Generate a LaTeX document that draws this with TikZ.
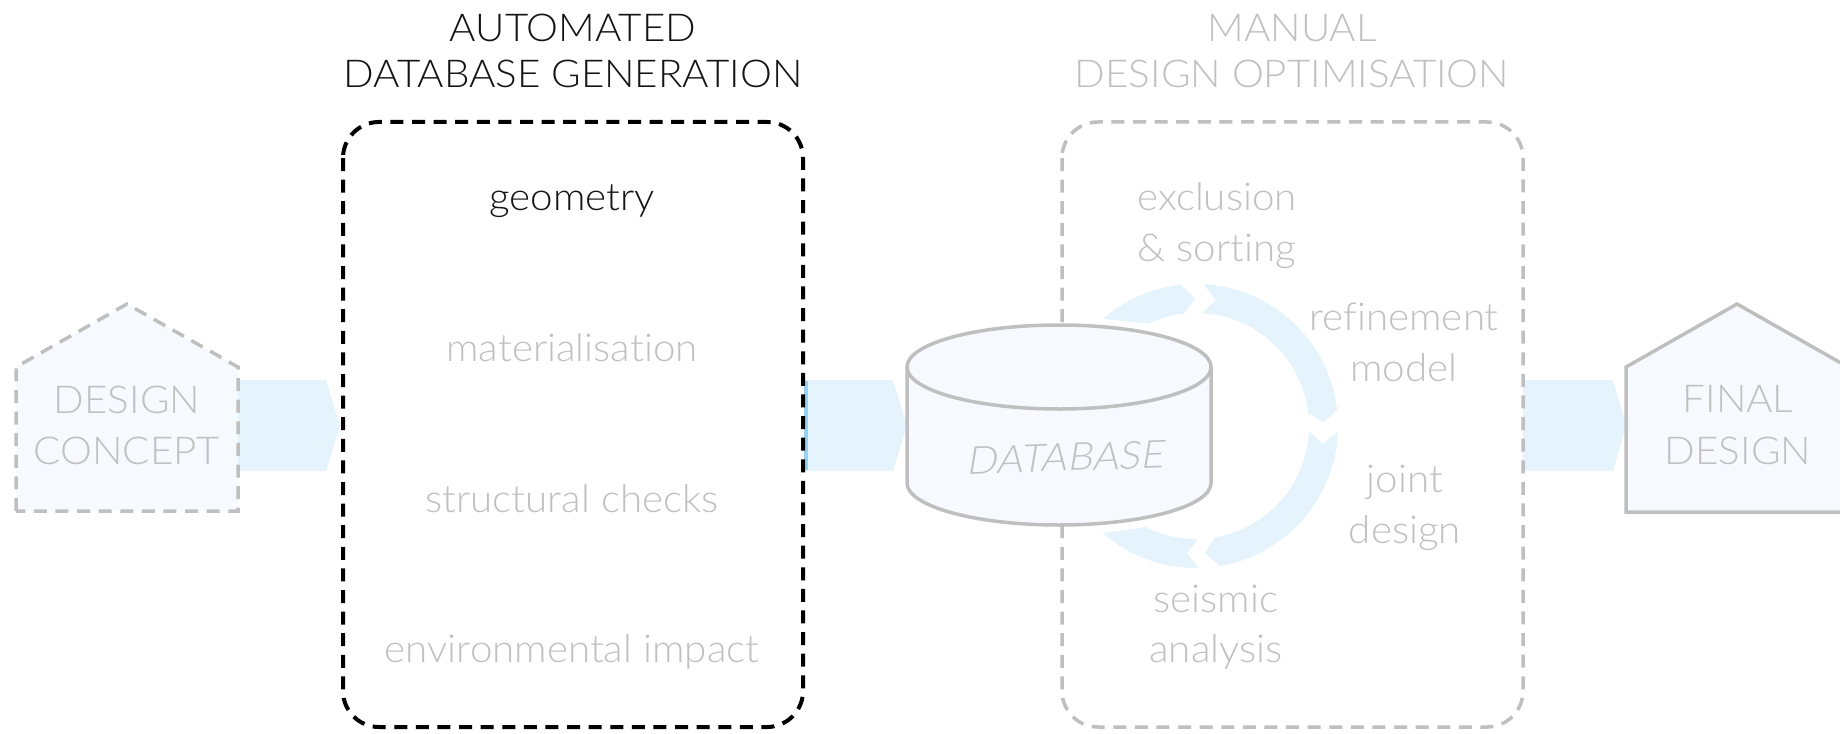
\documentclass[tikz,border=0pt]{standalone}
\usepackage{fontspec}
\setmainfont{Lato Light}[Ligatures=NoCommon, FakeStretch=1.05]
\newfontfamily\slfont{Lato Light}[Ligatures=NoCommon, FakeStretch=1.05, FakeSlant=0.2]
\definecolor{arrowblue}{RGB}{228,243,252}
\definecolor{stripblue}{RGB}{150,210,242}
\definecolor{housefill}{RGB}{246,250,254}
\definecolor{lightgray}{RGB}{191,191,191}
\definecolor{textgray}{RGB}{192,192,192}
\definecolor{inkblack}{RGB}{20,20,20}
\tikzset{
  lbl/.style={font=\fontsize{19.2}{23}\selectfont, text=textgray, anchor=base, inner sep=0pt},
  lblblack/.style={lbl, text=inkblack},
  blockarrow/.style={fill=arrowblue, draw=none},
  ringarrow/.style={fill=arrowblue, draw=none},
  dashbox/.style={line width=2pt, dash pattern=on 6.5pt off 4.3pt, rounded corners=18pt},
  grayline/.style={draw=lightgray, line width=1.75pt},
}
\begin{document}
\begin{tikzpicture}[x=0.5pt,y=-0.5pt]
\useasboundingbox (0,0) rectangle (1840,733);
\coordinate (C) at (1196,426);

% block arrows
\fill[blockarrow] (238,380) -- (326,380) -- (340,425.5) -- (326,471) -- (238,471) -- cycle;
\fill[blockarrow] (805,380) -- (893,380) -- (907,425.5) -- (893,471) -- (805,471) -- cycle;
\draw[stripblue, line width=2pt] (806,381) -- (806,470);
\fill[blockarrow] (1523,380) -- (1613,380) -- (1626,425.5) -- (1613,471) -- (1523,471) -- cycle;

% houses
\draw[grayline, fill=housefill, dash pattern=on 6.5pt off 4.3pt]
  (16,511) -- (16,367) -- (127,304) -- (238,367) -- (238,511) -- cycle;
\draw[grayline, fill=housefill, line join=miter]
  (1626,512) -- (1626,367) -- (1737,304) -- (1848,367) -- (1848,512) -- cycle;

% dashed boxes
\draw[dashbox, draw=black] (343,122) rectangle (803,727);
\draw[dashbox, draw=lightgray, line width=1.75pt] (1062,122) rectangle (1523,727);

% ring of arrows
\fill[ringarrow] ([shift={(C)}]-131:142) arc[start angle=-131, end angle=-96, radius=142]
  -- ([shift={(C)}]-90.5:127.5) -- ([shift={(C)}]-96:113)
  arc[start angle=-96, end angle=-115, radius=113] -- cycle;
\fill[ringarrow] ([shift={(C)}]-87:142) arc[start angle=-87, end angle=-6.5, radius=142]
  -- ([shift={(C)}]-1.5:127.5) -- ([shift={(C)}]-6.5:113)
  arc[start angle=-6.5, end angle=-87, radius=113] -- ([shift={(C)}]-81:127.5) -- cycle;
\fill[ringarrow] ([shift={(C)}]2.5:142) arc[start angle=2.5, end angle=80.5, radius=142]
  -- ([shift={(C)}]86:127.5) -- ([shift={(C)}]80.5:113)
  arc[start angle=80.5, end angle=2.5, radius=113] -- ([shift={(C)}]8:127.5) -- cycle;
\fill[ringarrow] ([shift={(C)}]89:142) arc[start angle=89, end angle=131, radius=142]
  -- ([shift={(C)}]116.6:113)
  arc[start angle=116.6, end angle=89, radius=113] -- ([shift={(C)}]94:127.5) -- cycle;

% database cylinder
\fill[housefill] (907,367) -- (907,483) arc[start angle=180, end angle=0, x radius=152, y radius=42]
  -- (1211,367) arc[start angle=0, end angle=-180, x radius=152, y radius=42] -- cycle;
\draw[grayline] (907,367) -- (907,483) arc[start angle=180, end angle=0, x radius=152, y radius=42]
  -- (1211,367);
\draw[grayline] (1059,367) ellipse[x radius=152, y radius=42];

% titles
\node[lblblack] (t1a) at (573,42) {AUTOMATED};
\node[lblblack] (t1b) at (573,88) {DATABASE GENERATION};
\node[lbl] (t2a) at (1292,42) {MANUAL};
\node[lbl] (t2b) at (1292,88) {DESIGN OPTIMISATION};

% house labels
\node[lbl] (dc1) at (127,413) {DESIGN};
\node[lbl] (dc2) at (127,464) {CONCEPT};
\node[lbl] (fd1) at (1738,412) {FINAL};
\node[lbl] (fd2) at (1738,464) {DESIGN};

% automated steps
\node[lblblack] (geo) at (572,210) {geometry};
\node[lbl] (mat) at (572,361) {materialisation};
\node[lbl] (str) at (572,512) {structural checks};
\node[lbl] (env) at (572,662) {environmental impact};

% database label
\node[lbl, font=\fontsize{19.2}{23}\slfont, rotate=2] (db) at (1065,471) {DATABASE};

% manual steps
\node[lbl] (ex1) at (1217,210) {exclusion};
\node[lbl] (ex2) at (1217,261) {\&~sorting};
\node[lbl] (rf1) at (1404,330) {refinement};
\node[lbl] (rf2) at (1404,381) {model};
\node[lbl] (jd1) at (1405,492) {joint};
\node[lbl] (jd2) at (1405,543) {design};
\node[lbl] (se1) at (1216,612) {seismic};
\node[lbl] (se2) at (1216,662) {analysis};
\end{tikzpicture}
\end{document}
